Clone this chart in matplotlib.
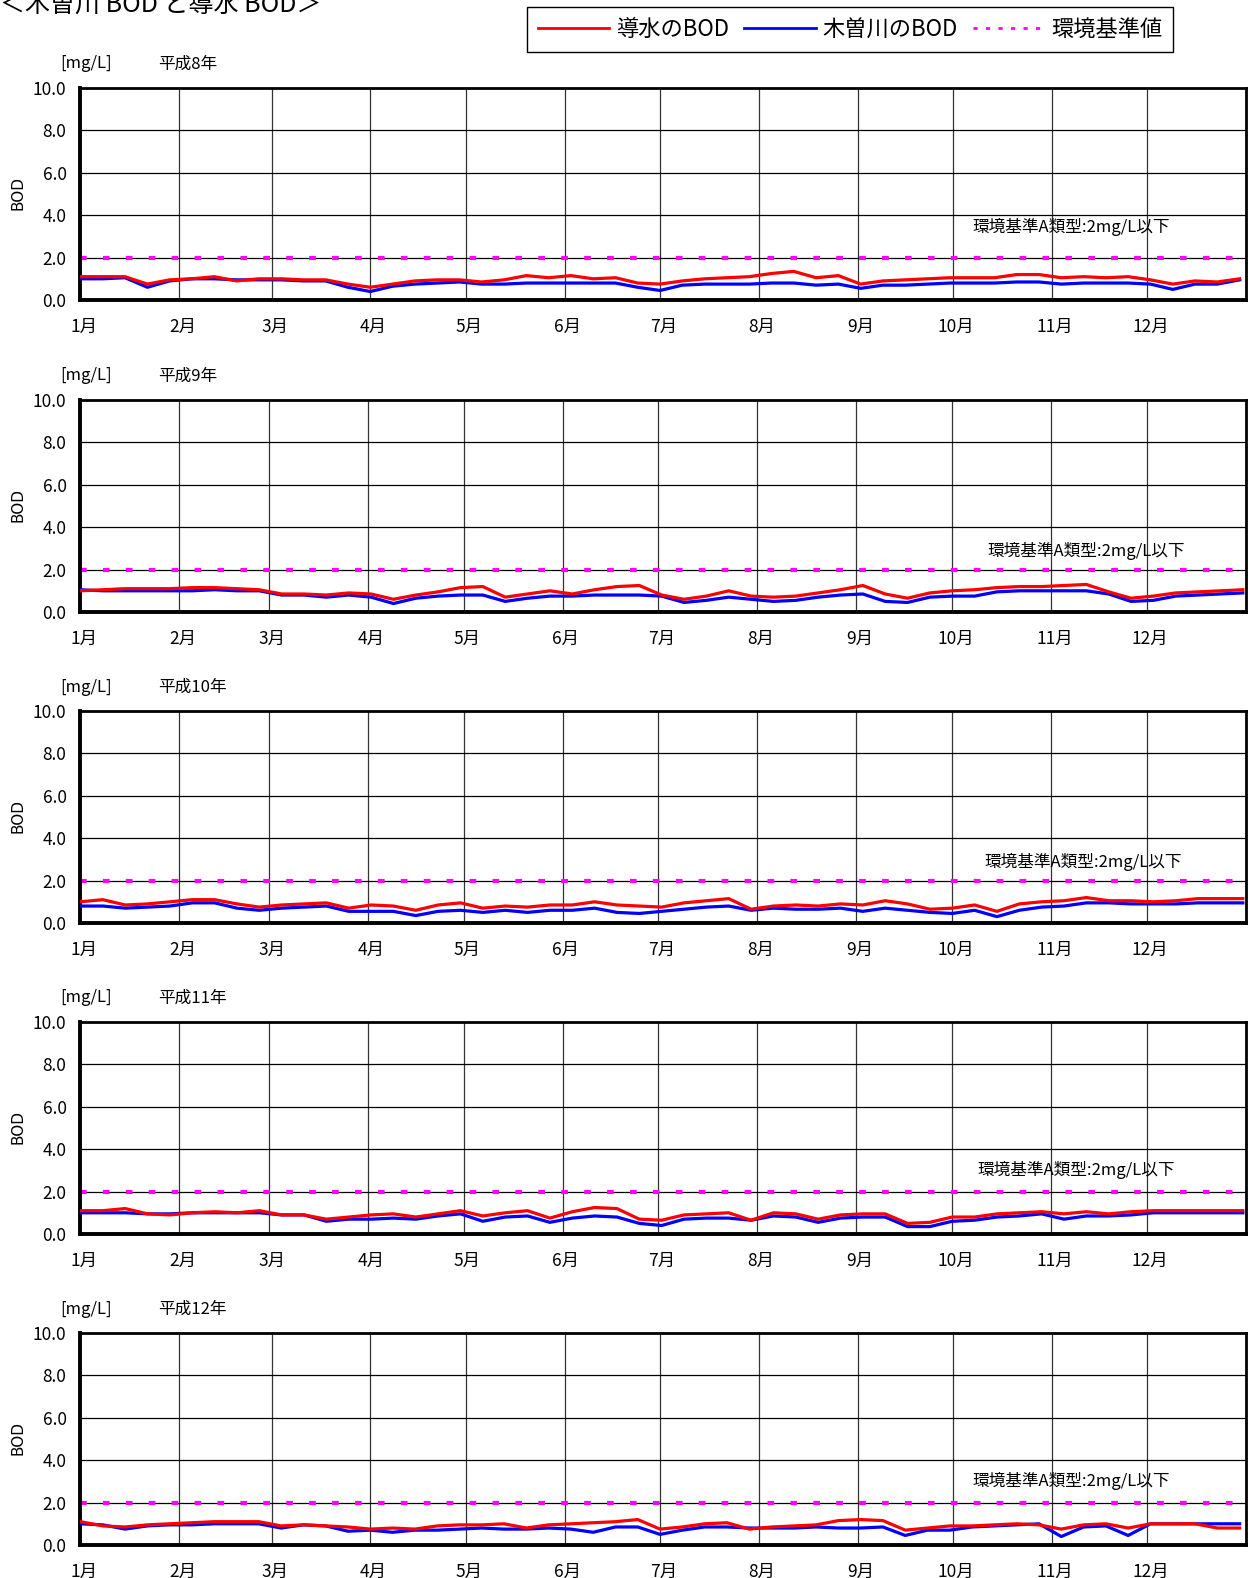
import numpy as np
import matplotlib.pyplot as plt
from matplotlib.lines import Line2D

plt.rcParams['font.family'] = ['Liberation Sans Narrow', 'Noto Sans CJK JP', 'DejaVu Sans']

# --- data (BOD mg/L, sampled weekly, day of year) ---
years = ['平成8年', '平成9年', '平成10年', '平成11年', '平成12年']
leap = [True, False, False, False, True]
month_labels = ['1月', '2月', '3月', '4月', '5月', '6月', '7月', '8月', '9月', '10月', '11月', '12月']
kijun = 2.0
days = np.arange(0, 365, 7)

dosui_h8 = [1.1, 1.1, 1.1, 0.75, 0.95, 1.0, 1.1, 0.9, 1.0, 1.0, 0.95, 0.95, 0.75, 0.6,
            0.75, 0.9, 0.95, 0.95, 0.85, 0.95, 1.15, 1.05, 1.15, 1.0, 1.05, 0.8, 0.75,
            0.9, 1.0, 1.05, 1.1, 1.25, 1.35, 1.05, 1.15, 0.75, 0.9, 0.95, 1.0, 1.05,
            1.05, 1.05, 1.2, 1.2, 1.05, 1.1, 1.05, 1.1, 0.95, 0.75, 0.9, 0.85, 1.0]
kiso_h8 = [1.0, 1.0, 1.05, 0.6, 0.9, 1.0, 1.0, 0.95, 0.95, 0.95, 0.9, 0.9, 0.6, 0.4,
           0.65, 0.75, 0.8, 0.85, 0.75, 0.75, 0.8, 0.8, 0.8, 0.8, 0.8, 0.6, 0.45,
           0.7, 0.75, 0.75, 0.75, 0.8, 0.8, 0.7, 0.75, 0.55, 0.7, 0.7, 0.75, 0.8,
           0.8, 0.8, 0.85, 0.85, 0.75, 0.8, 0.8, 0.8, 0.75, 0.5, 0.75, 0.75, 0.95]

dosui_h9 = [1.0, 1.05, 1.1, 1.1, 1.1, 1.15, 1.15, 1.1, 1.05, 0.85, 0.85, 0.8, 0.9, 0.85,
            0.6, 0.8, 0.95, 1.15, 1.2, 0.7, 0.85, 1.0, 0.85, 1.05, 1.2, 1.25, 0.8,
            0.6, 0.75, 1.0, 0.75, 0.7, 0.75, 0.9, 1.05, 1.25, 0.85, 0.65, 0.9, 1.0,
            1.05, 1.15, 1.2, 1.2, 1.25, 1.3, 0.95, 0.65, 0.75, 0.9, 0.95, 1.0, 1.05]
kiso_h9 = [1.05, 1.0, 1.0, 1.0, 1.0, 1.0, 1.05, 1.0, 1.0, 0.8, 0.8, 0.7, 0.8, 0.7,
           0.4, 0.65, 0.75, 0.8, 0.8, 0.5, 0.65, 0.75, 0.75, 0.8, 0.8, 0.8, 0.75,
           0.45, 0.55, 0.7, 0.6, 0.5, 0.55, 0.7, 0.8, 0.85, 0.5, 0.45, 0.7, 0.75,
           0.75, 0.95, 1.0, 1.0, 1.0, 1.0, 0.85, 0.5, 0.55, 0.75, 0.8, 0.85, 0.9]

dosui_h10 = [1.0, 1.1, 0.85, 0.9, 1.0, 1.1, 1.1, 0.9, 0.75, 0.85, 0.9, 0.95, 0.7, 0.85,
             0.8, 0.6, 0.85, 0.95, 0.7, 0.8, 0.75, 0.85, 0.85, 1.0, 0.85, 0.8, 0.75,
             0.95, 1.05, 1.15, 0.65, 0.8, 0.85, 0.8, 0.9, 0.85, 1.05, 0.9, 0.65, 0.7,
             0.85, 0.55, 0.9, 1.0, 1.05, 1.2, 1.05, 1.05, 1.0, 1.05, 1.15, 1.15, 1.15]
kiso_h10 = [0.8, 0.8, 0.7, 0.75, 0.8, 0.95, 0.95, 0.7, 0.6, 0.7, 0.75, 0.8, 0.55, 0.55,
            0.55, 0.35, 0.55, 0.6, 0.5, 0.6, 0.5, 0.6, 0.6, 0.7, 0.5, 0.45, 0.55,
            0.65, 0.75, 0.8, 0.6, 0.7, 0.65, 0.65, 0.7, 0.55, 0.7, 0.6, 0.5, 0.45,
            0.6, 0.3, 0.6, 0.75, 0.8, 0.95, 0.95, 0.9, 0.9, 0.9, 0.95, 0.95, 0.95]

dosui_h11 = [1.1, 1.1, 1.2, 0.95, 0.9, 1.0, 1.05, 1.0, 1.1, 0.9, 0.9, 0.7, 0.8, 0.9,
             0.95, 0.8, 0.95, 1.1, 0.85, 1.0, 1.1, 0.75, 1.05, 1.25, 1.2, 0.7, 0.65,
             0.9, 0.95, 1.0, 0.65, 1.0, 0.95, 0.7, 0.9, 0.95, 0.95, 0.5, 0.55, 0.8,
             0.8, 0.95, 1.0, 1.05, 0.95, 1.05, 0.95, 1.05, 1.1, 1.1, 1.1, 1.1, 1.1]
kiso_h11 = [1.0, 1.0, 1.0, 0.95, 0.95, 1.0, 1.0, 1.0, 1.0, 0.9, 0.9, 0.6, 0.7, 0.7,
            0.75, 0.7, 0.85, 0.95, 0.6, 0.8, 0.85, 0.55, 0.75, 0.85, 0.8, 0.5, 0.4,
            0.7, 0.75, 0.75, 0.65, 0.85, 0.8, 0.55, 0.75, 0.8, 0.8, 0.35, 0.35, 0.6,
            0.65, 0.8, 0.85, 0.95, 0.7, 0.85, 0.85, 0.9, 1.0, 1.0, 1.0, 1.0, 1.0]

dosui_h12 = [1.1, 0.9, 0.85, 0.95, 1.0, 1.05, 1.1, 1.1, 1.1, 0.9, 0.95, 0.9, 0.85, 0.75,
             0.8, 0.75, 0.9, 0.95, 0.95, 1.0, 0.8, 0.95, 1.0, 1.05, 1.1, 1.2, 0.75,
             0.85, 1.0, 1.05, 0.75, 0.85, 0.9, 0.95, 1.15, 1.2, 1.15, 0.7, 0.8, 0.9,
             0.9, 0.95, 1.0, 0.95, 0.75, 0.95, 1.0, 0.8, 1.0, 1.0, 1.0, 0.8, 0.8]
kiso_h12 = [1.0, 0.95, 0.75, 0.9, 0.95, 0.95, 1.0, 1.0, 1.0, 0.8, 0.95, 0.9, 0.65, 0.7,
            0.6, 0.7, 0.7, 0.75, 0.8, 0.75, 0.75, 0.8, 0.75, 0.6, 0.85, 0.85, 0.5,
            0.7, 0.85, 0.85, 0.8, 0.8, 0.8, 0.85, 0.8, 0.8, 0.85, 0.45, 0.7, 0.7,
            0.85, 0.9, 0.95, 1.0, 0.4, 0.85, 0.9, 0.45, 1.0, 1.0, 1.0, 1.0, 1.0]

dosui = [dosui_h8, dosui_h9, dosui_h10, dosui_h11, dosui_h12]
kiso = [kiso_h8, kiso_h9, kiso_h10, kiso_h11, kiso_h12]

# --- layout (pixels of the 1251x1578 picture) ---
W, H = 1251, 1578
tops = [88, 400, 711, 1022, 1333]
ax_h = 212
ax_l, ax_w = 80.5, 1165.5
note_pos = [(280, 3.45), (284, 2.9), (283, 2.9), (281, 3.0), (280, 3.0)]

fig = plt.figure(figsize=(W / 100, H / 100), dpi=100)

for i in range(5):
    dim = [31, 29 if leap[i] else 28, 31, 30, 31, 30, 31, 31, 30, 31, 30, 31]
    starts = np.concatenate([[0], np.cumsum(dim)[:-1]])
    ndays = sum(dim)

    ax = fig.add_axes([ax_l / W, 1 - (tops[i] + ax_h) / H, ax_w / W, ax_h / H])
    ax.plot(days, kiso[i], color='#0000ff', lw=2.3, zorder=3)
    ax.plot(days, dosui[i], color='#ff0000', lw=2.3, zorder=4)
    ax.axhline(kijun, color='#ff00ff', lw=3, ls=(0, (1.6, 3.9)), zorder=2)

    ax.set_xlim(0, ndays)
    ax.set_ylim(0, 10)
    ax.set_yticks(np.arange(0, 10.1, 2))
    ax.set_yticklabels(['%.1f' % v for v in np.arange(0, 10.1, 2)])
    ax.set_xticks(starts + 1)
    ax.set_xticklabels(month_labels)
    ax.tick_params(length=0, labelsize=12.5)
    ax.tick_params(axis='x', pad=13)
    ax.tick_params(axis='y', pad=10)
    ax.grid(False)
    for d in starts[1:]:
        ax.axvline(d, color='#333333', lw=0.9, zorder=1)
    for v in np.arange(2, 10, 2):
        ax.axhline(v, color='black', lw=0.9, zorder=1)
    for s in ax.spines.values():
        s.set_linewidth(2.0)
    ax.spines['left'].set_linewidth(2.8)
    ax.spines['bottom'].set_linewidth(2.8)

    ax.text(note_pos[i][0], note_pos[i][1], '環境基準A類型:2mg/L以下', fontsize=12,
            va='center', ha='left', zorder=5)

    fig.text(18 / W, 1 - (tops[i] + 105) / H, 'BOD', rotation=90, fontsize=11,
             family='DejaVu Sans', ha='center', va='center')
    fig.text(60 / W, 1 - (tops[i] - 24) / H, '[mg/L]', fontsize=12, va='center')
    fig.text(158 / W, 1 - (tops[i] - 24) / H, years[i], fontsize=12, va='center')

# title is partly cut at the top edge, as in the original page
fig.text(0, 1 - 5 / H, '＜木曽川 BOD と導水 BOD＞', fontsize=18, va='center', ha='left')

handles = [Line2D([], [], color='#ff0000', lw=2),
           Line2D([], [], color='#0000ff', lw=2),
           Line2D([], [], color='#ff00ff', lw=2, ls=(0, (1.5, 3)))]
leg = fig.legend(handles, ['導水のBOD', '木曽川のBOD', '環境基準値'], loc='upper left',
                 bbox_to_anchor=(527 / W, 1 - 7 / H), ncol=3, fontsize=16,
                 frameon=True, fancybox=False, edgecolor='black', framealpha=1,
                 handlelength=3.2, handletextpad=0.3, columnspacing=0.7,
                 borderpad=0.5, borderaxespad=0)
leg.get_frame().set_linewidth(1.0)

fig.savefig('out.png', dpi=100)
